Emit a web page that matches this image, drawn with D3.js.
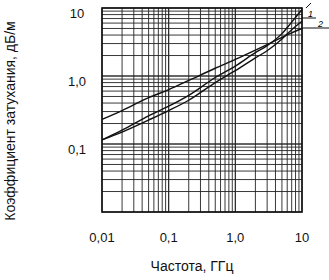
<!DOCTYPE html>
<html><head><meta charset="utf-8">
<script src="https://cdn.jsdelivr.net/npm/d3@7/dist/d3.min.js"></script>
<style>body{margin:0;background:#fff}svg{display:block;font-family:"Liberation Sans",Arial,sans-serif}</style>
</head><body><svg id="c" width="329" height="280"></svg>
<script>
const freqs   = [0.01, 0.02, 0.05, 0.1, 0.2, 0.5, 1, 2, 3, 5, 7, 10];
const seriesU = [0.23, 0.31, 0.48, 0.63, 0.86, 1.3, 1.75, 2.4, 2.9, 3.7, 4.3, 5.0];
const series1 = [0.115, 0.16, 0.26, 0.36, 0.52, 0.95, 1.4, 2.2, 2.8, 4.2, 6.2, 9.5];
const series2 = [0.115, 0.15, 0.225, 0.31, 0.44, 0.8, 1.2, 1.85, 2.35, 3.5, 4.8, 6.4];
const xTickVals = [0.01, 0.1, 1, 10];
const xTickLabels = ["0,01", "0,1", "1,0", "10"];
const yTickVals = [0.1, 1, 10];
const yTickLabels = ["0,1", "1,0", "10"];
const xTitle = "Частота, ГГц";
const yTitle = "Коэффициент затухания, дБ/м";
const curveLabels = ["1", "2"];

const svg = d3.select("#c");
const x = d3.scaleLog().domain([0.01, 10]).range([102, 302]);
const y = d3.scaleLog().domain([0.01, 10]).range([212, 8]);

// log grid
const gridVals = [];
[0.01, 0.1, 1].forEach(d => { for (let k = 1; k <= 10; k++) gridVals.push(d * k); });
const g = svg.append("g");
g.selectAll("line.vx").data(gridVals).join("line")
  .attr("x1", d => x(d)).attr("x2", d => x(d))
  .attr("y1", y(0.01)).attr("y2", y(10))
  .attr("stroke", "#222").attr("stroke-width", 0.9);
g.selectAll("line.hy").data(gridVals).join("line")
  .attr("y1", d => y(d)).attr("y2", d => y(d))
  .attr("x1", x(0.01)).attr("x2", x(10))
  .attr("stroke", "#222").attr("stroke-width", 0.9);
svg.append("rect").attr("x", x(0.01)).attr("y", y(10))
  .attr("width", x(10) - x(0.01)).attr("height", y(0.01) - y(10))
  .attr("fill", "none").attr("stroke", "#111").attr("stroke-width", 1.6);

// curves
const line = d3.line().x((d, i) => x(freqs[i])).y(d => y(d)).curve(d3.curveMonotoneX);
[seriesU, series1, series2].forEach(s => {
  svg.append("path").attr("d", line(s)).attr("fill", "none")
    .attr("stroke", "#111").attr("stroke-width", 1.4);
});

// curve labels with leaders
svg.append("line").attr("x1", x(10)).attr("x2", 316).attr("y1", 18).attr("y2", 18).attr("stroke", "#111").attr("stroke-width", 1);
svg.append("line").attr("x1", x(10)).attr("x2", 329).attr("y1", 28).attr("y2", 28).attr("stroke", "#111").attr("stroke-width", 1);
svg.append("line").attr("x1", 306).attr("x2", 311).attr("y1", 8).attr("y2", 3).attr("stroke", "#111").attr("stroke-width", 1);
svg.append("text").attr("x", 308).attr("y", 17).attr("font-size", 9).attr("font-style", "italic").text(curveLabels[0]);
svg.append("text").attr("x", 318).attr("y", 27).attr("font-size", 9).attr("font-style", "italic").text(curveLabels[1]);

// tick labels
svg.selectAll("text.xt").data(xTickVals).join("text")
  .attr("x", d => x(d)).attr("y", 242).attr("text-anchor", "middle")
  .attr("font-size", 13).attr("fill", "#111").text((d, i) => xTickLabels[i]);
svg.selectAll("text.yt").data(yTickVals).join("text")
  .attr("x", 77).attr("y", d => y(d) + 7).attr("dominant-baseline", "middle").attr("text-anchor", "middle")
  .attr("font-size", 13).attr("fill", "#111").text((d, i) => yTickLabels[i]);

svg.append("text").attr("x", 192).attr("y", 271).attr("text-anchor", "middle")
  .attr("font-size", 14).attr("fill", "#111").text(xTitle);
svg.append("text").attr("transform", "translate(15,121) rotate(-90)").attr("text-anchor", "middle")
  .attr("font-size", 14).attr("fill", "#111").text(yTitle);
</script></body></html>
